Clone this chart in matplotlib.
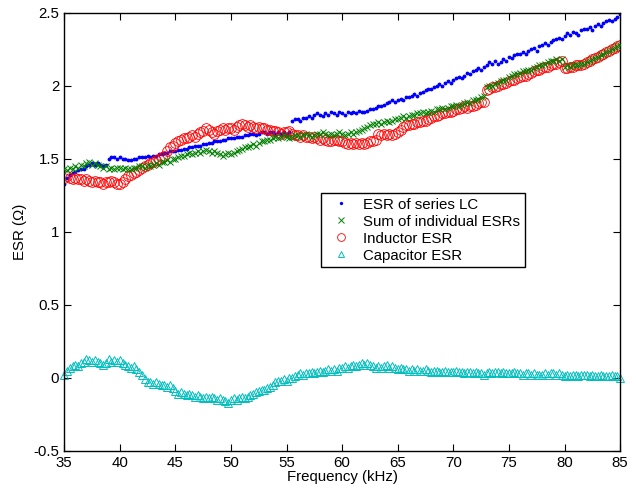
import numpy as np
import matplotlib
matplotlib.use("Agg")
import matplotlib.pyplot as plt
from matplotlib.ticker import FormatStrFormatter

plt.rcParams['font.family'] = ['Liberation Sans', 'DejaVu Sans']
plt.rcParams['axes.unicode_minus'] = False

# frequency grid (kHz), 0.25 kHz steps
freq = np.arange(35, 85.001, 0.25)

esr_series_lc = [
    1.33, 1.37, 1.39, 1.40, 1.41, 1.42, 1.43, 1.43, 1.45, 1.46, 1.47, 1.46,
    1.47, 1.46, 1.45, 1.46, 1.50, 1.51, 1.51, 1.50, 1.51, 1.50, 1.50, 1.49,
    1.49, 1.50, 1.50, 1.51, 1.51, 1.51, 1.52, 1.51, 1.52, 1.52, 1.53, 1.53,
    1.54, 1.54, 1.55, 1.55, 1.55, 1.56, 1.56, 1.57, 1.57, 1.58, 1.58, 1.59,
    1.59, 1.59, 1.60, 1.60, 1.61, 1.61, 1.62, 1.62, 1.62, 1.63, 1.63, 1.64,
    1.64, 1.64, 1.65, 1.65, 1.65, 1.66, 1.66, 1.67, 1.67, 1.66, 1.67, 1.68,
    1.68, 1.67, 1.68, 1.68, 1.67, 1.68, 1.67, 1.68, 1.67, 1.68, 1.76, 1.77,
    1.77, 1.76, 1.78, 1.78, 1.79, 1.78, 1.80, 1.81, 1.80, 1.79, 1.81, 1.80,
    1.82, 1.81, 1.80, 1.82, 1.81, 1.80, 1.82, 1.81, 1.82, 1.81, 1.83, 1.82,
    1.82, 1.83, 1.84, 1.84, 1.85, 1.86, 1.86, 1.87, 1.88, 1.89, 1.90, 1.89,
    1.90, 1.91, 1.90, 1.92, 1.92, 1.93, 1.94, 1.93, 1.95, 1.96, 1.97, 1.98,
    1.98, 1.99, 2.00, 2.01, 2.00, 2.02, 2.03, 2.02, 2.04, 2.05, 2.06, 2.05,
    2.07, 2.09, 2.08, 2.10, 2.11, 2.12, 2.11, 2.13, 2.14, 2.16, 2.15, 2.17,
    2.15, 2.16, 2.18, 2.17, 2.20, 2.19, 2.21, 2.22, 2.22, 2.23, 2.22, 2.24,
    2.25, 2.26, 2.24, 2.27, 2.28, 2.29, 2.28, 2.30, 2.31, 2.32, 2.33, 2.32,
    2.34, 2.36, 2.35, 2.37, 2.36, 2.35, 2.38, 2.39, 2.39, 2.40, 2.38, 2.41,
    2.42, 2.41, 2.43, 2.44, 2.45, 2.44, 2.46, 2.47, 2.49,
]

esr_sum = [
    1.43, 1.42, 1.44, 1.43, 1.45, 1.44, 1.46, 1.45, 1.47, 1.48, 1.46, 1.47,
    1.46, 1.45, 1.44, 1.45, 1.43, 1.44, 1.43, 1.44, 1.44, 1.43, 1.44, 1.43,
    1.43, 1.44, 1.44, 1.45, 1.45, 1.44, 1.46, 1.45, 1.46, 1.47, 1.46, 1.48,
    1.48, 1.49, 1.48, 1.50, 1.50, 1.51, 1.52, 1.52, 1.53, 1.54, 1.53, 1.54,
    1.55, 1.54, 1.55, 1.56, 1.55, 1.54, 1.55, 1.54, 1.53, 1.52, 1.53, 1.54,
    1.53, 1.54, 1.55, 1.56, 1.57, 1.58, 1.58, 1.59, 1.60, 1.59, 1.61, 1.62,
    1.62, 1.63, 1.63, 1.64, 1.65, 1.64, 1.65, 1.66, 1.65, 1.64, 1.65, 1.66,
    1.66, 1.65, 1.66, 1.67, 1.66, 1.65, 1.66, 1.67, 1.67, 1.68, 1.67, 1.66,
    1.67, 1.66, 1.67, 1.68, 1.67, 1.66, 1.67, 1.68, 1.67, 1.68, 1.69, 1.70,
    1.71, 1.72, 1.73, 1.74, 1.74, 1.75, 1.74, 1.75, 1.76, 1.75, 1.76, 1.77,
    1.77, 1.78, 1.79, 1.78, 1.79, 1.80, 1.80, 1.81, 1.81, 1.82, 1.81, 1.82,
    1.83, 1.82, 1.84, 1.84, 1.85, 1.84, 1.85, 1.86, 1.86, 1.87, 1.86, 1.87,
    1.88, 1.89, 1.88, 1.90, 1.90, 1.91, 1.92, 1.93, 1.99, 2.00, 2.00, 2.01,
    2.02, 2.03, 2.04, 2.04, 2.06, 2.07, 2.08, 2.08, 2.09, 2.10, 2.10, 2.11,
    2.11, 2.12, 2.13, 2.14, 2.14, 2.15, 2.16, 2.17, 2.17, 2.18, 2.17, 2.18,
    2.13, 2.14, 2.13, 2.14, 2.14, 2.14, 2.15, 2.15, 2.16, 2.17, 2.18, 2.19,
    2.20, 2.21, 2.22, 2.23, 2.24, 2.25, 2.26, 2.27, 2.28,
]

esr_inductor = [
    1.37, 1.38, 1.37, 1.36, 1.37, 1.36, 1.36, 1.35, 1.36, 1.35, 1.34, 1.35,
    1.34, 1.34, 1.33, 1.34, 1.34, 1.35, 1.34, 1.33, 1.33, 1.34, 1.36, 1.38,
    1.39, 1.40, 1.41, 1.42, 1.44, 1.45, 1.46, 1.47, 1.48, 1.49, 1.50, 1.51,
    1.52, 1.55, 1.58, 1.59, 1.61, 1.62, 1.63, 1.64, 1.64, 1.65, 1.66, 1.65,
    1.67, 1.68, 1.69, 1.71, 1.70, 1.68, 1.67, 1.69, 1.70, 1.71, 1.70, 1.71,
    1.71, 1.70, 1.72, 1.73, 1.74, 1.73, 1.72, 1.73, 1.72, 1.71, 1.72, 1.71,
    1.71, 1.70, 1.70, 1.69, 1.69, 1.68, 1.67, 1.68, 1.68, 1.69, 1.67, 1.66,
    1.66, 1.65, 1.66, 1.65, 1.65, 1.64, 1.65, 1.64, 1.63, 1.64, 1.63, 1.62,
    1.62, 1.63, 1.63, 1.62, 1.62, 1.61, 1.60, 1.61, 1.60, 1.61, 1.60, 1.61,
    1.60, 1.61, 1.62, 1.62, 1.63, 1.67, 1.66, 1.67, 1.66, 1.67, 1.66, 1.67,
    1.68, 1.70, 1.72, 1.73, 1.73, 1.74, 1.74, 1.75, 1.75, 1.76, 1.76, 1.77,
    1.78, 1.79, 1.79, 1.80, 1.81, 1.81, 1.82, 1.82, 1.83, 1.84, 1.84, 1.85,
    1.86, 1.85, 1.86, 1.86, 1.87, 1.88, 1.89, 1.89, 1.97, 1.98, 1.99, 1.99,
    2.00, 2.01, 2.01, 2.02, 2.03, 2.04, 2.04, 2.05, 2.06, 2.07, 2.07, 2.08,
    2.09, 2.10, 2.11, 2.11, 2.12, 2.13, 2.13, 2.14, 2.15, 2.15, 2.16, 2.17,
    2.12, 2.12, 2.13, 2.13, 2.14, 2.14, 2.14, 2.15, 2.16, 2.17, 2.18, 2.19,
    2.20, 2.21, 2.22, 2.23, 2.24, 2.25, 2.26, 2.27, 2.28,
]

esr_capacitor = [
    0.02, 0.05, 0.07, 0.08, 0.09, 0.08, 0.10, 0.11, 0.13, 0.12, 0.11, 0.12,
    0.11, 0.10, 0.09, 0.10, 0.13, 0.11, 0.12, 0.11, 0.12, 0.10, 0.09, 0.08,
    0.07, 0.08, 0.06, 0.04, 0.02, -0.01, -0.03, -0.03, -0.04, -0.03, -0.04, -0.05,
    -0.05, -0.06, -0.05, -0.07, -0.09, -0.11, -0.10, -0.11, -0.12, -0.11, -0.12, -0.13,
    -0.12, -0.13, -0.14, -0.13, -0.14, -0.13, -0.14, -0.15, -0.14, -0.15, -0.16, -0.17,
    -0.15, -0.14, -0.15, -0.14, -0.13, -0.14, -0.13, -0.12, -0.11, -0.10, -0.09, -0.08,
    -0.08, -0.07, -0.06, -0.05, -0.03, -0.02, -0.02, -0.01, -0.02, 0.00, 0.00, 0.01,
    0.02, 0.03, 0.02, 0.03, 0.03, 0.04, 0.03, 0.04, 0.05, 0.04, 0.05, 0.06,
    0.05, 0.06, 0.05, 0.07, 0.07, 0.08, 0.07, 0.08, 0.09, 0.08, 0.09, 0.10,
    0.09, 0.10, 0.09, 0.08, 0.07, 0.08, 0.07, 0.08, 0.09, 0.07, 0.08, 0.07,
    0.06, 0.07, 0.06, 0.06, 0.05, 0.06, 0.05, 0.06, 0.05, 0.05, 0.06, 0.05,
    0.04, 0.05, 0.05, 0.04, 0.04, 0.05, 0.04, 0.04, 0.04, 0.05, 0.04, 0.04,
    0.03, 0.04, 0.04, 0.03, 0.04, 0.03, 0.03, 0.02, 0.03, 0.04, 0.03, 0.04,
    0.04, 0.03, 0.04, 0.03, 0.03, 0.03, 0.04, 0.03, 0.03, 0.02, 0.03, 0.03,
    0.02, 0.03, 0.02, 0.02, 0.02, 0.03, 0.02, 0.03, 0.03, 0.02, 0.03, 0.02,
    0.01, 0.02, 0.01, 0.02, 0.02, 0.01, 0.02, 0.02, 0.02, 0.01, 0.02, 0.01,
    0.01, 0.02, 0.01, 0.01, 0.01, 0.02, 0.01, 0.01, 0.00,
]

labels = ['ESR of series LC', 'Sum of individual ESRs', 'Inductor ESR', 'Capacitor ESR']

fig = plt.figure(figsize=(6.36, 4.88), dpi=100)
ax = fig.add_axes([0.101, 0.076, 0.874, 0.898])

h1, = ax.plot(freq, esr_series_lc, '.', color=(0, 0, 1), markersize=3.5, zorder=2)
h3, = ax.plot(freq, esr_inductor, 'o', color=(1, 0, 0), markerfacecolor='none',
              markersize=7, markeredgewidth=0.6, zorder=2)
h2, = ax.plot(freq, esr_sum, 'x', color=(0, 0.5, 0), markersize=5,
              markeredgewidth=0.7, zorder=3)
h4, = ax.plot(freq, esr_capacitor, '^', color=(0, 0.75, 0.75), markerfacecolor='none',
              markersize=6, markeredgewidth=0.7, zorder=2, clip_on=False)

ax.set_xlim(35, 85)
ax.set_ylim(-0.5, 2.5)
ax.set_xticks(np.arange(35, 86, 5))
ax.set_yticks(np.arange(-0.5, 2.51, 0.5))
ax.yaxis.set_major_formatter(FormatStrFormatter('%g'))
ax.tick_params(direction='in', top=True, right=True, length=5, labelsize=10.8)
for sp in ax.spines.values():
    sp.set_linewidth(1.0)

ax.set_xlabel('Frequency (kHz)', fontsize=10.8, labelpad=0)
ax.set_ylabel('ESR (\u03a9)', fontsize=10.8, labelpad=5)

leg = ax.legend([h1, h2, h3, h4], labels, loc='upper left',
                bbox_to_anchor=(0.462, 0.588), borderaxespad=0, fontsize=10.8,
                frameon=True, fancybox=False, edgecolor='black', framealpha=1,
                handlelength=2.0, handletextpad=0.5, labelspacing=0.2,
                borderpad=0.3, numpoints=1, markerscale=0.8)
leg.get_frame().set_linewidth(1.0)

fig.savefig('out.png', dpi=100)
